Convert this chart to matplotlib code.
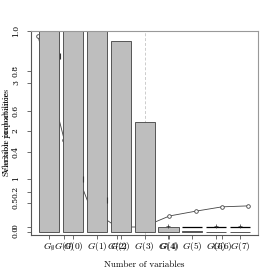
import matplotlib
matplotlib.use("Agg")
import matplotlib.pyplot as plt
import numpy as np

plt.rcParams['mathtext.fontset'] = 'cm'
plt.rcParams['font.family'] = ['DejaVu Serif']

# --- data ---
bar_labels = [r"$G_\emptyset$", r"$G(0)$", r"$G(1)$", r"$G(2)$", r"$G(3)$",
              r"$G(4)$", r"$G(5)$", r"$G(6)$", r"$G(7)$"]
bar_values = [1.0, 1.0, 1.0, 0.95, 0.547, 0.025, 0.005, 0.001, 0.001]
line_values = [3.98, 1.81, 0.375, 0.0, 0.0, 0.23, 0.33, 0.42, 0.44]
line_tick_idx = [1, 3, 5, 7]
line_tick_labels = [r"$G(0)$", r"$G(2)$", r"$G(4)$", r"$G(6)$"]
top_seg_idx = [6, 7, 8]
top_seg_value = 0.025
plus_idx = [5, 7, 8]
plus_value = 0.028
mark_x = [0.46, 1.44, 2.43]
mark_y = [0.876, 0.266, 0.16]
left_ticks = [0.0, 0.2, 0.4, 0.6, 0.8, 1.0]
left_ticklabels = ["0.0", "0.2", "0.4", "0.6", "0.8", "1.0"]
right_ticks = [0, 0.5, 1, 2, 3]
right_ticklabels = ["0", "0.5", "1", "2", "3"]
cut_index = 4

fig = plt.figure(figsize=(2.74, 2.74), dpi=100)
pos = [31/274, 39/274, (258-31)/274, (235-31)/274]

edge = '#555555'
tfs = 5.5
xfs = 6.8

# secondary axes (line), drawn beneath
ax2 = fig.add_axes(pos)
x2 = np.arange(len(line_values))
ax2.plot(x2, line_values, color='#444444', lw=0.6, marker='o', ms=2.6,
         mfc='white', mec='#444444', mew=0.6)
ax2.set_xlim(-0.266, 8.365)
ax2.set_ylim(-0.1667, 4.083)
ax2.set_xticks(line_tick_idx)
ax2.set_xticklabels(line_tick_labels, fontsize=xfs)
ax2.set_yticks(right_ticks)
ax2.set_yticklabels(right_ticklabels, fontsize=tfs, rotation=90, va='center')
ax2.tick_params(length=3, width=0.6, color=edge, pad=0.8)
ax2.tick_params(axis='y', pad=5)
for s in ax2.spines.values():
    s.set_visible(False)

# main axes (bars)
ax = fig.add_axes(pos)
ax.patch.set_alpha(0)
xb = np.arange(len(bar_values))
ax.axvline(cut_index, color='#cccccc', ls=(0, (3, 2)), lw=0.7, zorder=0)
ax.bar(xb, bar_values, width=0.84, color='#bebebe', edgecolor=edge, lw=0.7, zorder=2)
for i in top_seg_idx:
    ax.hlines(top_seg_value, i - 0.42, i + 0.42, color='black', lw=0.9, zorder=3)
ax.plot(plus_idx, [plus_value]*len(plus_idx), ls='none', marker='+', ms=2.5,
        color='#333333', mew=0.5, zorder=3)
ax.plot(mark_x, mark_y, ls='none', marker='|', ms=4, color='#333333', mew=0.8, zorder=3)
ax.set_xlim(-0.753, 8.745)
ax.set_ylim(-0.015, 1.0)
ax.set_xticks(xb)
ax.set_xticklabels(bar_labels, fontsize=xfs)
ax.set_yticks(left_ticks)
ax.set_yticklabels(left_ticklabels, fontsize=tfs, rotation=90, va='center')
ax.tick_params(length=3, width=0.6, color=edge, pad=0.8)
ax.tick_params(axis='y', pad=5)
for s in ax.spines.values():
    s.set_color(edge)
    s.set_linewidth(0.8)
ax.spines['top'].set_color('#999999')
ax.spines['right'].set_color('#999999')

fig.text(144.5/274, 1 - 265/274, "Number of variables", fontsize=6.5, family='cmr10',
         ha='center', va='center')
fig.text(7/274, 1 - 133/274, "Variable importance", fontsize=6.5, family='cmr10',
         rotation=90, ha='center', va='center')
fig.text(7/274, 1 - 133/274, "Selection probabilities", fontsize=6.5, family='cmr10',
         rotation=90, ha='center', va='center')

fig.savefig("out.png", dpi=100)
